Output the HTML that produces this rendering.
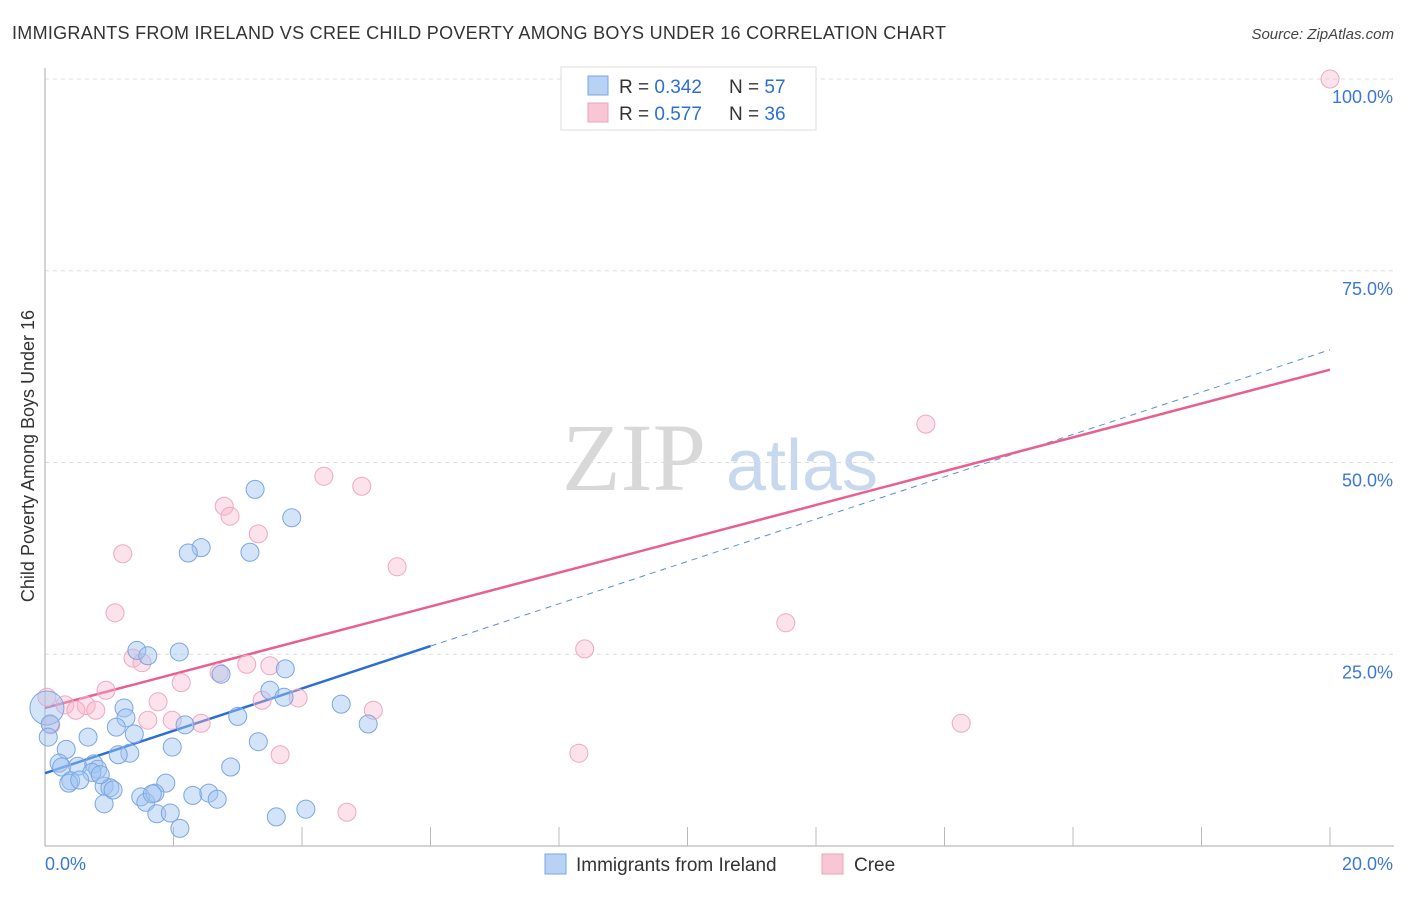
<!DOCTYPE html>
<html><head><meta charset="utf-8"><style>
body{margin:0;background:#fff;font-family:"Liberation Sans",sans-serif}
</style></head><body>
<svg id="chart" width="1406" height="892" xmlns="http://www.w3.org/2000/svg" font-family="Liberation Sans, sans-serif">
<text x="12" y="39" font-size="18" fill="#333" textLength="934" lengthAdjust="spacing">IMMIGRANTS FROM IRELAND VS CREE CHILD POVERTY AMONG BOYS UNDER 16 CORRELATION CHART</text>
<text x="1394" y="39" font-size="15" fill="#444" text-anchor="end" font-style="italic">Source: ZipAtlas.com</text>
<text transform="translate(34,456) rotate(-90)" font-size="18" fill="#333" text-anchor="middle">Child Poverty Among Boys Under 16</text>
<g>
<text x="634" y="490" font-size="96" fill="#d8d8d8" font-family="Liberation Serif, serif" text-anchor="middle">ZIP</text>
<text x="802" y="490" font-size="72" fill="#c8d8ee" text-anchor="middle">atlas</text>
</g>
<g id="grid"></g><g id="axes"></g><g id="lines"></g><g id="pts"></g>
<g>
<rect x="561" y="67" width="255" height="63" fill="#fff" stroke="#ddd"/>
<rect x="588" y="76" width="20" height="19" fill="#b7d2f5" stroke="#7aa6e0"/>
<rect x="588" y="103" width="20" height="19" fill="#f9c6d5" stroke="#eea2ba"/>
<text x="619" y="93" font-size="19" fill="#333">R = <tspan fill="#2a6fd6">0.342</tspan></text>
<text x="729" y="93" font-size="19" fill="#333">N = <tspan fill="#2a6fd6">57</tspan></text>
<text x="619" y="120" font-size="19" fill="#333">R = <tspan fill="#2a6fd6">0.577</tspan></text>
<text x="729" y="120" font-size="19" fill="#333">N = <tspan fill="#2a6fd6">36</tspan></text>
</g>
<g>
<rect x="545" y="854" width="21" height="20" fill="#b7d2f5" stroke="#7aa6e0"/>
<text x="576" y="871" font-size="19" fill="#333">Immigrants from Ireland</text>
<rect x="822" y="854" width="21" height="20" fill="#f9c6d5" stroke="#eea2ba"/>
<text x="854" y="871" font-size="19" fill="#333">Cree</text>
</g>
</svg>
<script>
const yTicks=[25,50,75,100];
const yTickLabels=["25.0%","50.0%","75.0%","100.0%"];
const xTicks=[2,4,6,8,10,12,14,16,18,20];
const blueX=[0.03,3.27,3.84,2.43,2.23,3.19,1.43,1.60,2.09,2.74,3.50,3.74,3.72,4.61,5.03,1.23,1.26,1.11,1.39,0.67,0.33,0.22,0.26,0.51,0.76,0.82,0.73,0.40,0.37,0.54,0.92,1.01,0.92,1.32,1.14,1.98,2.18,3.00,3.32,2.89,1.88,1.49,1.57,1.71,1.67,1.74,1.95,2.10,2.30,2.55,2.68,3.60,4.06,0.08,0.05,0.86,1.06];
const blueY=[18.0,46.5,42.8,38.9,38.2,38.3,25.5,24.8,25.3,22.4,20.3,23.1,19.4,18.5,15.9,18.0,16.7,15.5,14.6,14.2,12.6,10.8,10.3,10.4,10.7,10.0,9.6,8.5,8.2,8.6,7.8,7.6,5.5,12.1,11.9,12.9,15.8,16.9,13.6,10.3,8.2,6.4,5.7,6.9,6.8,4.2,4.3,2.3,6.6,6.9,6.1,3.8,4.8,15.9,14.2,9.3,7.3];
const pinkX=[20.0,13.71,4.34,4.93,2.79,2.88,3.32,1.21,5.48,1.09,11.53,8.40,1.37,1.51,3.14,3.50,2.71,2.12,0.95,1.76,3.94,3.38,0.31,0.64,0.48,0.79,5.11,1.60,1.98,2.43,14.26,0.09,3.66,8.31,4.70,0.03];
const pinkY=[100,55.0,48.2,46.9,44.3,43.0,40.7,38.1,36.4,30.4,29.1,25.7,24.5,23.9,23.7,23.5,22.6,21.3,20.3,18.8,19.3,19.0,18.4,18.3,17.7,17.7,17.7,16.4,16.4,16.0,16.0,15.8,11.9,12.1,4.4,19.4];
const blueTrend=[9.5,64.7];
const blueSolidEnd=6.0;
const pinkTrend=[18.0,62.1];
const NS="http://www.w3.org/2000/svg";
const sx=v=>45+v*64.25, sy=v=>846-v*7.67;
function mk(p,tag,a){const e=document.createElementNS(NS,tag);for(const k in a)e.setAttribute(k,a[k]);p.appendChild(e);return e;}
const grid=document.getElementById('grid'),axes=document.getElementById('axes'),lines=document.getElementById('lines'),pts=document.getElementById('pts');
yTicks.forEach((t,i)=>{
 const l=mk(grid,'line',{x1:45,x2:1394,y1:sy(t),y2:sy(t),stroke:'#ddd','stroke-dasharray':'4,4'});
 
 
 const tx=mk(grid,'text',{x:1393,y:sy(t)+24,'font-size':18,fill:'#3a78d8','text-anchor':'end'});
 tx.textContent=yTickLabels[i];
 
 
});
const ya=mk(axes,'line',{x1:45,x2:45,y1:68,y2:846,stroke:'#aaa'});


const xa=mk(axes,'line',{x1:45,x2:1394,y1:846,y2:846,stroke:'#aaa'});


xTicks.forEach(t=>{const l=mk(axes,'line',{x1:sx(t),x2:sx(t),y1:827,y2:846,stroke:'#bbb'});
 
 });
const x0=mk(axes,'text',{x:45,y:870,'font-size':18,fill:'#3a78d8'});x0.textContent='0.0%';


const x1=mk(axes,'text',{x:1393,y:870,'font-size':18,fill:'#3a78d8','text-anchor':'end'});x1.textContent='20.0%';


function draw(X,Y,fill,stroke,name,big){X.forEach((x,i)=>{const c=mk(pts,'circle',{cx:sx(x),cy:sy(Y[i]),r:(big&&i===0)?17:9,fill:fill,stroke:stroke,'stroke-width':1});
 
 });}
draw(pinkX,pinkY,'rgba(248,182,202,0.4)','#f0a8c0','cree-point',false);
draw(blueX,blueY,'rgba(160,196,240,0.45)','#7aa6e4','ireland-point',true);
const bt=x=>blueTrend[0]+(blueTrend[1]-blueTrend[0])*x/20, pt=x=>pinkTrend[0]+(pinkTrend[1]-pinkTrend[0])*x/20;
const bd=mk(lines,'line',{x1:sx(blueSolidEnd),y1:sy(bt(blueSolidEnd)),x2:sx(20),y2:sy(bt(20)),stroke:'#5a8ee0','stroke-width':1,'stroke-dasharray':'6,5'});


const pl=mk(lines,'line',{x1:sx(0),y1:sy(pt(0)),x2:sx(20),y2:sy(pt(20)),stroke:'#e8608e','stroke-width':2.5});


const bl=mk(lines,'line',{x1:sx(0),y1:sy(bt(0)),x2:sx(blueSolidEnd),y2:sy(bt(blueSolidEnd)),stroke:'#2a6fd6','stroke-width':2.5});


</script>
</body></html>
